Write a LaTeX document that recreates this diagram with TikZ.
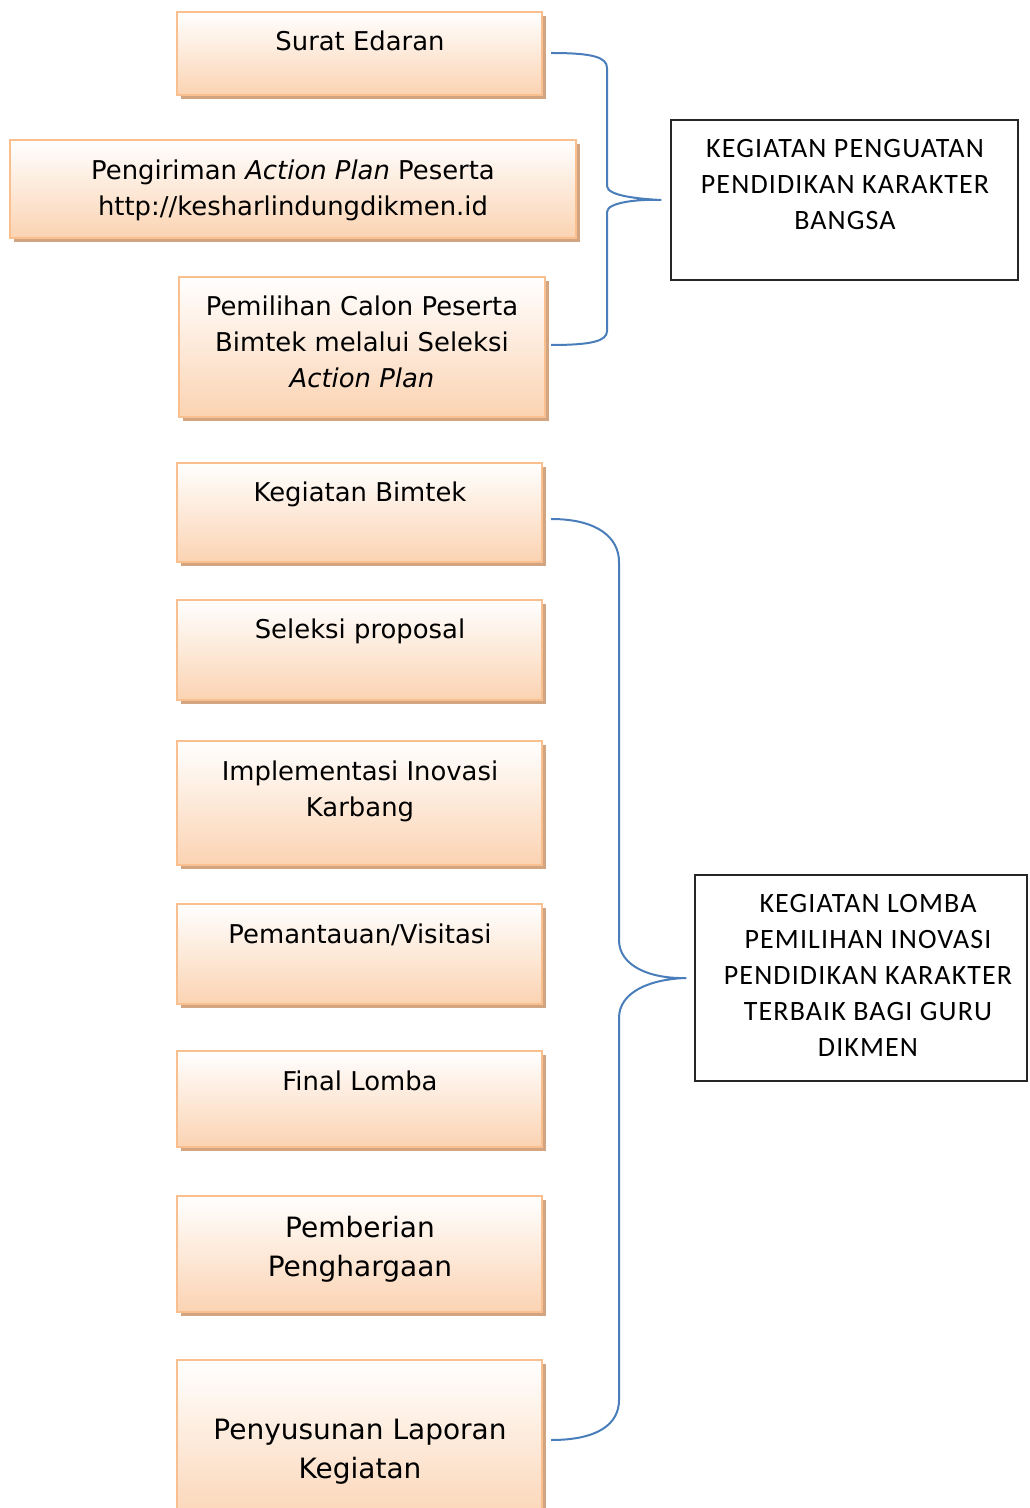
\documentclass[tikz,border=0pt]{standalone}
\usepackage{fontspec}
\setmainfont{DejaVu Sans}
\newfontfamily\calib[LetterSpace=4]{Carlito}
\usetikzlibrary{fit,shadows}
\definecolor{boxborder}{HTML}{FABF8E}
\definecolor{boxfill}{HTML}{FBD3B2}
\definecolor{boxshadow}{HTML}{D2A47F}
\definecolor{bracec}{HTML}{4A7EBB}
\tikzset{
  stepbox/.style={draw=boxborder, line width=1.9pt, top color=white, bottom color=boxfill,
    inner sep=0pt, general shadow={fill=boxshadow, shadow xshift=3pt, shadow yshift=-3pt}},
  steptext/.style={anchor=north, inner sep=0pt, align=center,
    font=\fontsize{19.4pt}{27pt}\selectfont},
  bigtext/.style={anchor=north, inner sep=0pt, align=center,
    font=\fontsize{21pt}{29.3pt}\selectfont},
  sidebox/.style={draw=black!85, line width=0.9pt, inner sep=0pt},
  sidetext/.style={anchor=north, inner sep=0pt, align=center,
    font=\calib\fontsize{21pt}{27pt}\selectfont},
  bracel/.style={draw=bracec, line width=1.5pt}
}
\begin{document}
\begin{tikzpicture}[x=0.75pt,y=-0.75pt]
\useasboundingbox (0,0) rectangle (1029,1508);
% left boxes
\node[stepbox, fit={(177,12) (542,95)}] (b1) {};
\node[steptext] (t1) at (360,31) {Surat Edaran};
\node[stepbox, fit={(10,140) (576,238)}] (b2) {};
\node[steptext] (t2) at (293,160) {Pengiriman \textit{Action Plan} Peserta\\http://kesharlindungdikmen.id};
\node[stepbox, fit={(179,277) (545,417)}] (b3) {};
\node[steptext] (t3) at (362,296) {Pemilihan Calon Peserta\\Bimtek melalui Seleksi\\\textit{Action Plan}};
\node[stepbox, fit={(177,463) (542,562)}] (b4) {};
\node[steptext] (t4) at (360,482) {Kegiatan Bimtek};
\node[stepbox, fit={(177,600) (542,700)}] (b5) {};
\node[steptext] (t5) at (360,619) {Seleksi proposal};
\node[stepbox, fit={(177,741) (542,865)}] (b6) {};
\node[steptext] (t6) at (360,761) {Implementasi Inovasi\\Karbang};
\node[stepbox, fit={(177,904) (542,1004)}] (b7) {};
\node[steptext] (t7) at (360,924) {Pemantauan/Visitasi};
\node[stepbox, fit={(177,1051) (542,1147)}] (b8) {};
\node[steptext] (t8) at (360,1071) {Final Lomba};
\node[stepbox, fit={(177,1196) (542,1312)}] (b9) {};
\node[bigtext] (t9) at (360,1216) {Pemberian\\Penghargaan};
\node[stepbox, fit={(177,1360) (542,1530)}] (b10) {};
\node[bigtext] (t10) at (360,1419) {Penyusunan Laporan\\Kegiatan};
% right boxes
\node[sidebox, fit={(671,120) (1018,280)}] (r1) {};
\node[sidetext] (s1) at (845,139) {KEGIATAN PENGUATAN\\PENDIDIKAN KARAKTER\\BANGSA};
\node[sidebox, fit={(695,875) (1027,1081)}] (r2) {};
\node[sidetext] (s2) at (868,894) {KEGIATAN LOMBA\\PEMILIHAN INOVASI\\PENDIDIKAN KARAKTER\\TERBAIK BAGI GURU\\DIKMEN};
% brace 1
\coordinate (p1a) at (551,53);
\coordinate (p1b) at (551,345);
\coordinate (tip1) at ([xshift=-6.75pt]r1.west);
\draw[bracel] (p1a) .. controls (592,53) and (607,57) .. (607,68) -- (607,186)
  .. controls (607,196) and (640,199) .. (tip1)
  .. controls (640,199) and (607,202) .. (607,212) -- (607,331)
  .. controls (607,341) and (592,345) .. (p1b);
% brace 2
\coordinate (p2a) at (551,519);
\coordinate (p2b) at (551,1440);
\coordinate (tip2) at ([xshift=-6pt]r2.west);
\draw[bracel] (p2a) .. controls (598,519) and (619,538) .. (619,562) -- (619,940)
  .. controls (619,966) and (650,979) .. (tip2)
  .. controls (650,979) and (619,992) .. (619,1018) -- (619,1400)
  .. controls (619,1424) and (598,1440) .. (p2b);
\end{tikzpicture}
\end{document}
